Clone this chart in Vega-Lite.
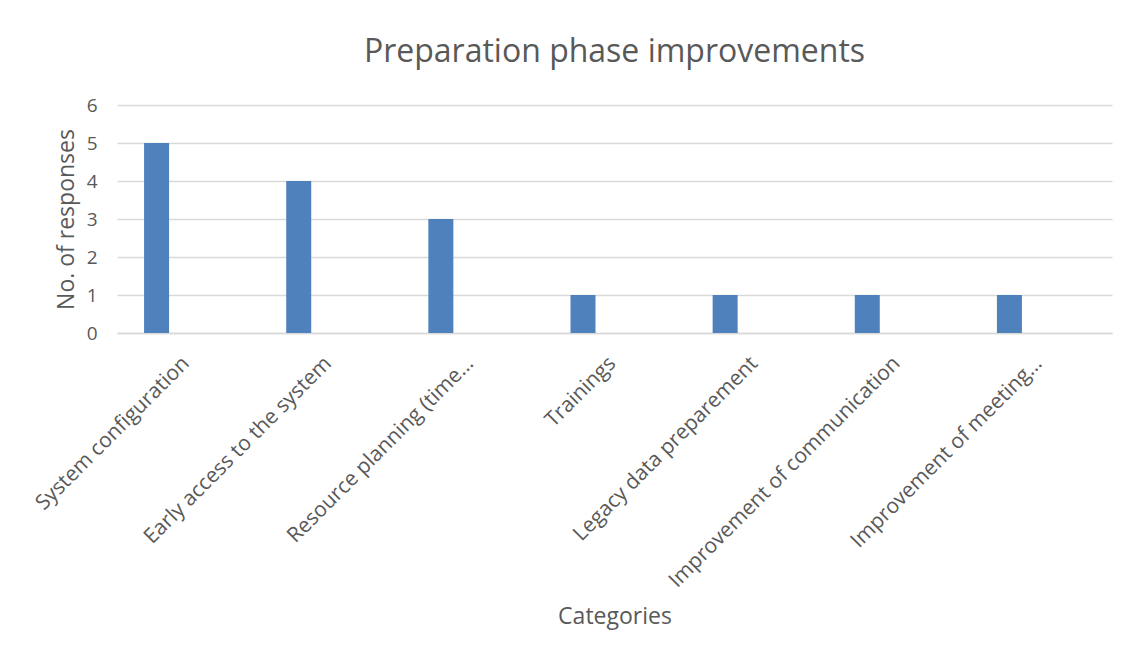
{
  "$schema": "https://vega.github.io/schema/vega-lite/v6.json",
  "width": 995,
  "height": 228,
  "autosize": {"type": "none"},
  "padding": {"left": 117, "top": 105, "right": 29, "bottom": 331},
  "background": "white",
  "title": {
    "text": "Preparation phase improvements",
    "fontSize": 32,
    "font": "Open Sans",
    "fontWeight": "normal",
    "color": "#595959",
    "anchor": "middle",
    "baseline": "alphabetic",
    "offset": 2
  },
  "data": {
    "values": [
      {"category": "System configuration", "responses": 5},
      {"category": "Early access to the system", "responses": 4},
      {"category": "Resource planning (time…", "responses": 3},
      {"category": "Trainings", "responses": 1},
      {"category": "Legacy data preparement", "responses": 1},
      {"category": "Improvement of communication", "responses": 1},
      {"category": "Improvement of meeting…", "responses": 1}
    ]
  },
  "mark": {"type": "bar", "width": 25, "xOffset": -31.5, "color": "#4F81BD"},
  "encoding": {
    "x": {
      "field": "category",
      "type": "nominal",
      "sort": null,
      "scale": {"paddingInner": 0, "paddingOuter": 0},
      "axis": {
        "title": "Categories",
        "titleFont": "Open Sans",
        "titleFontSize": 23,
        "titleFontWeight": "normal",
        "titleColor": "#595959",
        "titlePadding": 72,
        "labelFont": "Open Sans",
        "labelFontSize": 21,
        "labelColor": "#595959",
        "labelAngle": -45,
        "labelAlign": "right",
        "labelBaseline": "middle",
        "labelOffset": -2,
        "labelPadding": 27,
        "labelLimit": 400,
        "labelOverlap": false,
        "ticks": false,
        "domainColor": "#D9D9D9",
        "domainWidth": 1.5,
        "grid": false
      }
    },
    "y": {
      "field": "responses",
      "type": "quantitative",
      "scale": {"domain": [0, 6]},
      "axis": {
        "title": "No. of responses",
        "titleFont": "Open Sans",
        "titleFontSize": 23,
        "titleFontWeight": "normal",
        "titleColor": "#595959",
        "titlePadding": 8,
        "labelFont": "Open Sans",
        "labelFontSize": 19,
        "labelColor": "#595959",
        "labelPadding": 20,
        "labelOverlap": false,
        "values": [0, 1, 2, 3, 4, 5, 6],
        "ticks": false,
        "domain": false,
        "gridColor": "#D9D9D9",
        "gridWidth": 1.5
      }
    }
  },
  "config": {"view": {"stroke": null}}
}
